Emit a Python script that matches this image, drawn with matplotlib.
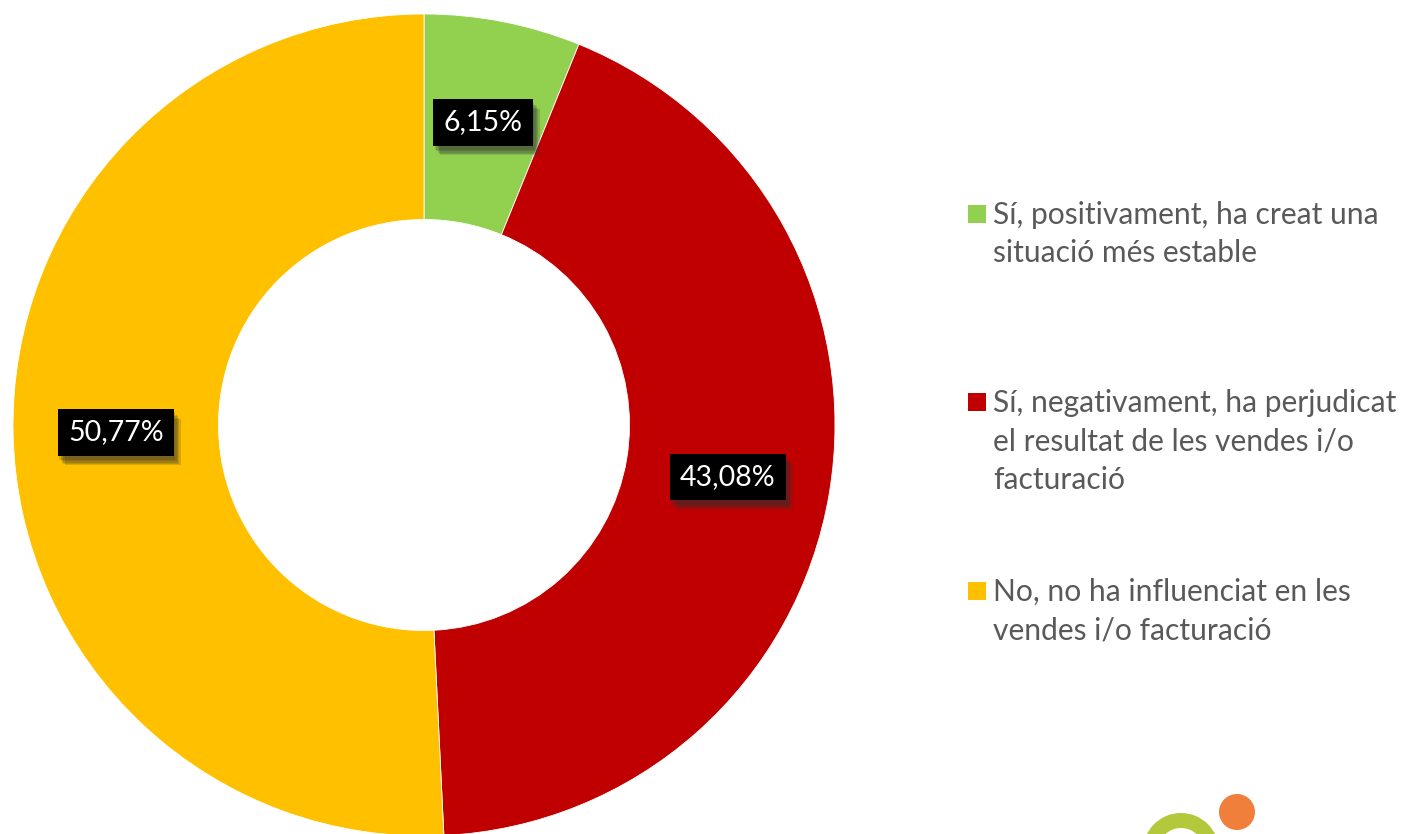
import matplotlib.pyplot as plt
import matplotlib.patheffects as pe
from matplotlib.patches import Rectangle, Circle, Wedge
import numpy as np

plt.rcParams['font.family'] = ['Lato', 'DejaVu Sans']

# data
categories = [
    "Sí, positivament, ha creat una\nsituació més estable",
    "Sí, negativament, ha perjudicat\nel resultat de les vendes i/o\nfacturació",
    "No, no ha influenciat en les\nvendes i/o facturació",
]
values = [6.15, 43.08, 50.77]
labels = ["6,15%", "43,08%", "50,77%"]
colors = ["#92D050", "#C00000", "#FFC000"]

W, H = 1401, 834
fig = plt.figure(figsize=(W / 100, H / 100), dpi=100)

# donut axes placed in pixel terms
ax = fig.add_axes([13 / W, -2 / H, 822 / W, 822 / H])
wedges, _ = ax.pie(values, colors=colors, startangle=90, counterclock=False,
                   radius=1.0, wedgeprops=dict(width=0.5, edgecolor="white", linewidth=0.6))
ax.set_aspect("equal")
ax.set_xlim(-1, 1)
ax.set_ylim(-1, 1)
ax.axis("off")

# soft shadow = a few stacked offsets
shadow = [pe.SimplePatchShadow(offset=(3 + d, -5 - d), shadow_rgbFace="#303030", alpha=0.18)
          for d in (-2, -1, 0, 1, 2)]

# data labels at ring middle
for w, lab in zip(wedges, labels):
    ang = np.radians((w.theta1 + w.theta2) / 2)
    x, y = 0.75 * np.cos(ang), 0.75 * np.sin(ang)
    t = ax.text(x, y, lab, ha="center", va="center", color="white", fontsize=20.5,
                bbox=dict(boxstyle="square,pad=0.36", facecolor="black", edgecolor="none"))
    t.get_bbox_patch().set_path_effects(shadow + [pe.Normal()])

# legend drawn manually
leg_y = [214, 402, 591]
for lab, col, yy in zip(categories, colors, leg_y):
    fig.patches.append(Rectangle((968 / W, 1 - (yy + 9) / H), 18 / W, 18 / H,
                                 transform=fig.transFigure, facecolor=col, edgecolor="none"))
    fig.text(993 / W, 1 - (yy - 13) / H, lab, ha="left", va="top", fontsize=21.6,
             color="#595959", linespacing=1.45)

# logo fragment at bottom right
lax = fig.add_axes([0, 0, 1, 1], zorder=-1)
lax.set_xlim(0, W)
lax.set_ylim(H, 0)
lax.axis("off")
lax.add_patch(Wedge((1181, 851), 38, 0, 360, width=15, facecolor="#B3C83A", edgecolor="none"))
lax.add_patch(Circle((1237, 812), 18, facecolor="#F07F3C", edgecolor="none"))

fig.savefig("out.png", dpi=100)
